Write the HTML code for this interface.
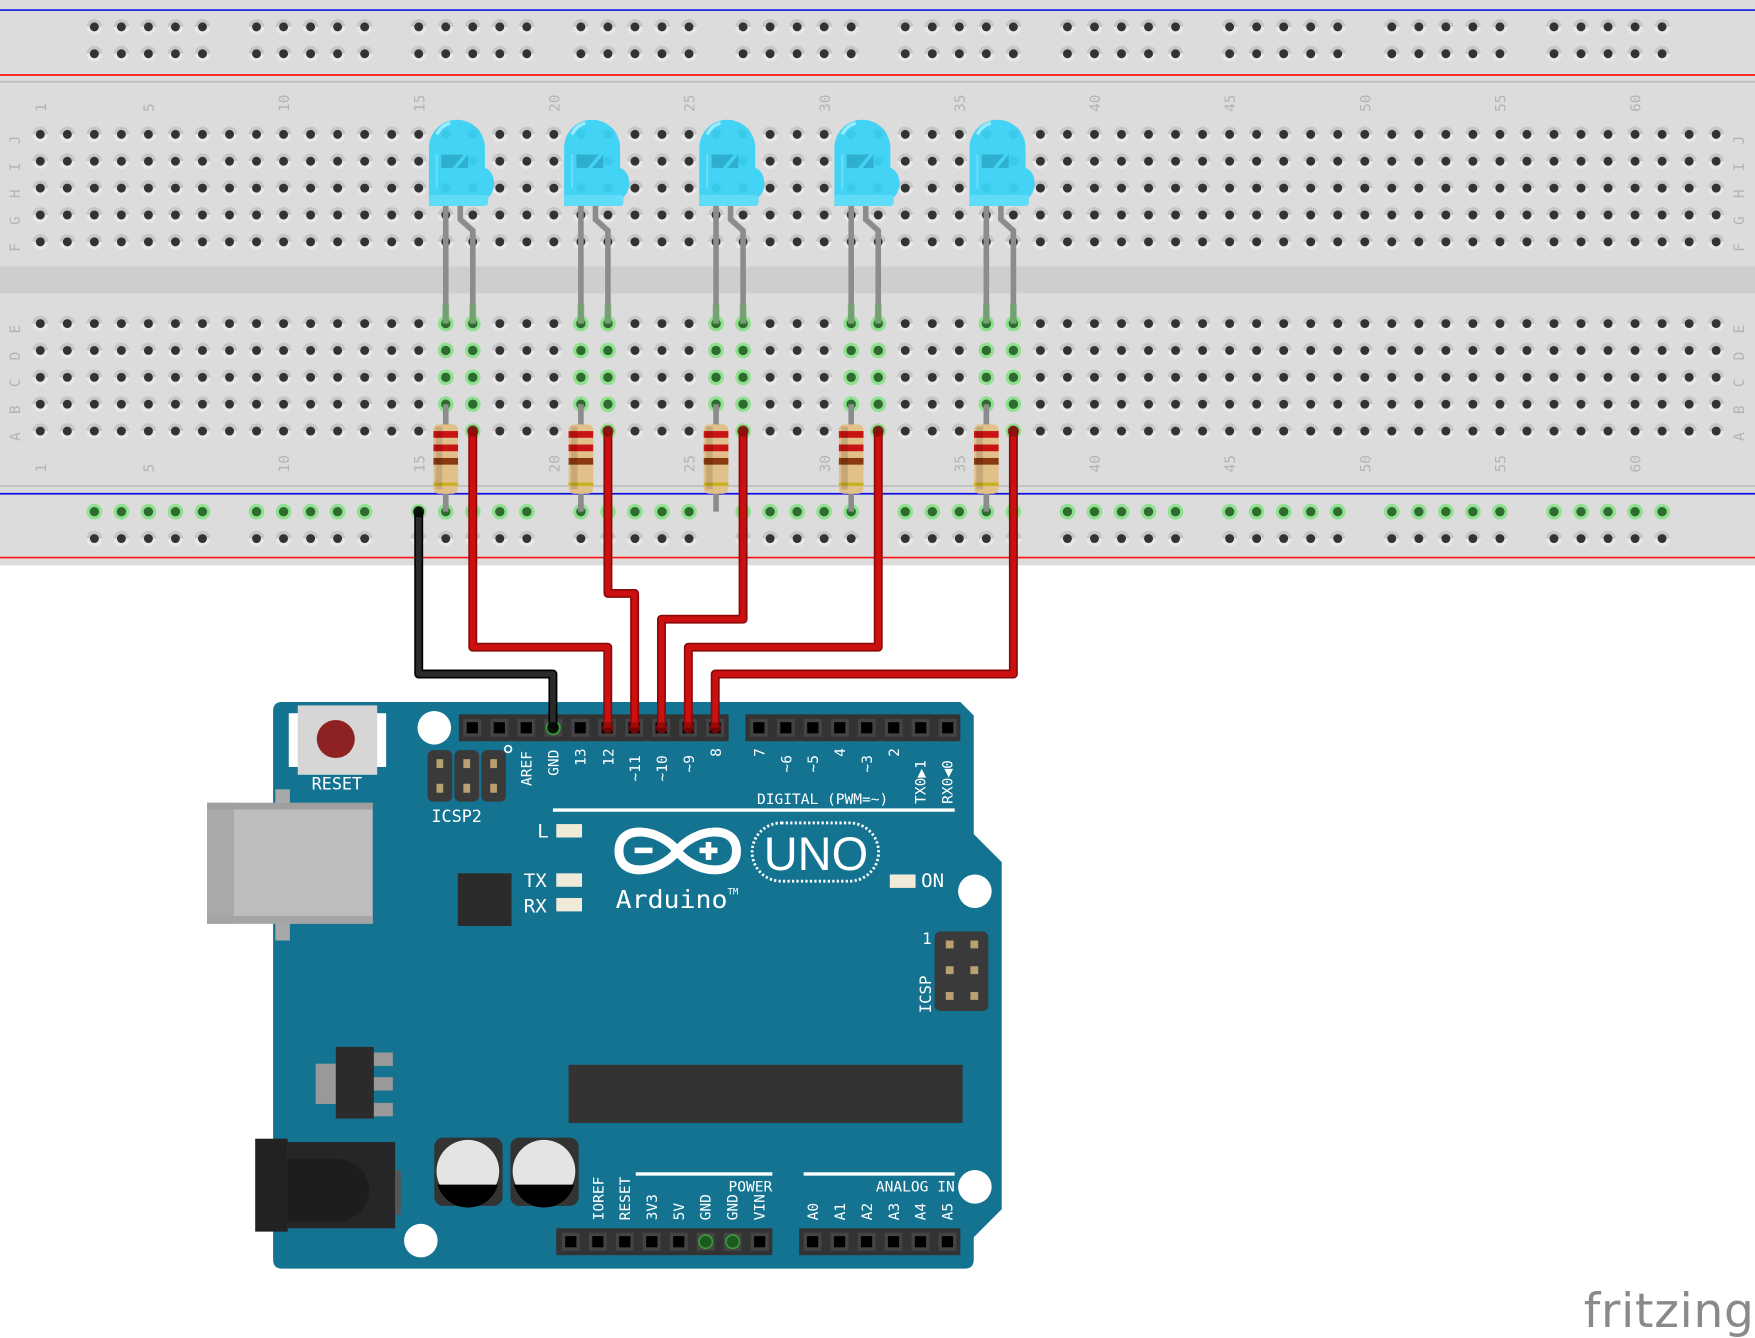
<!DOCTYPE html>
<html><head><meta charset="utf-8"><style>
html,body{margin:0;padding:0;background:#fff;width:1755px;height:1338px;overflow:hidden}
svg{display:block}
.bl{font-family:"DejaVu Sans Mono","Liberation Mono",monospace;fill:#b4b4b4;font-size:13px}
.pl{font-family:"DejaVu Sans Mono","Liberation Mono",monospace;fill:#fff}
</style></head><body>
<svg id="s" width="1755" height="1338" viewBox="0 0 1568 1195" preserveAspectRatio="none" xmlns="http://www.w3.org/2000/svg">
<defs>
<g id="hole"><path d="M-7,0a7,7 0 0 1 14,0z" fill="#c6c6c6"/><path d="M-7,0a7,7 0 0 0 14,0z" fill="#e8e8e8"/><circle r="4" fill="#333"/></g>
<g id="ghole"><circle r="7" fill="#8fe08f"/><circle r="4.2" fill="#2f6a2f"/></g>
<g id="led">
<path d="M-25,76 L-25,24 A25,25 0 0 1 25,24 L25,42 A10,14 0 0 1 28,68 L25,76 Z" fill="#3ad2f4" opacity="0.95"/>
<rect x="-25" y="66" width="53" height="10" rx="3" fill="#5fdcf7"/>
<path d="M-14,30 L6,30 L-4,42 L-14,42Z M0,42 L10,30 L10,42Z" fill="#2aa8c8" opacity="0.8"/>
<path d="M-18,12 Q-14,4 -6,2" stroke="#9eeaff" stroke-width="3" fill="none"/>
<path d="M-18,30 L-18,60" stroke="#7fe4fb" stroke-width="2" fill="none" opacity=".6"/>
</g>
<g id="res">
<rect x="-11" y="0" width="22" height="62" rx="5" fill="#e2c08a"/>
<rect x="-11" y="6" width="22" height="6" fill="#c81414"/>
<rect x="-11" y="18" width="22" height="6" fill="#c81414"/>
<rect x="-11" y="30" width="22" height="6" fill="#8a3a10"/>
<rect x="-11" y="52" width="22" height="3" fill="#c8b020"/>
<rect x="-9" y="2" width="6" height="56" fill="#000" opacity=".12"/>
</g>
</defs>
<rect x="0" y="0" width="1568" height="505" fill="#dcdcdc"/>
<rect x="0" y="238" width="1568" height="24" fill="#d0cecd"/>
<line x1="0" y1="9" x2="1568" y2="9" stroke="#1010e0" stroke-width="1.5"/>
<line x1="0" y1="67" x2="1568" y2="67" stroke="#ff1010" stroke-width="1.5"/>
<line x1="0" y1="73" x2="1568" y2="73" stroke="#bdbdbd" stroke-width="1.5"/>
<line x1="0" y1="434" x2="1568" y2="434" stroke="#bdbdbd" stroke-width="1.5"/>
<line x1="0" y1="441" x2="1568" y2="441" stroke="#1010e0" stroke-width="1.5"/>
<line x1="0" y1="498" x2="1568" y2="498" stroke="#ff1010" stroke-width="1.5"/>
<g id="holes"></g>
<g id="labels"></g>
<g class="bl">
<text transform="translate(18,125) rotate(-90)" text-anchor="middle">J</text>
<text transform="translate(18,149) rotate(-90)" text-anchor="middle">I</text>
<text transform="translate(18,173) rotate(-90)" text-anchor="middle">H</text>
<text transform="translate(18,197) rotate(-90)" text-anchor="middle">G</text>
<text transform="translate(18,221) rotate(-90)" text-anchor="middle">F</text>
<text transform="translate(18,294) rotate(-90)" text-anchor="middle">E</text>
<text transform="translate(18,318) rotate(-90)" text-anchor="middle">D</text>
<text transform="translate(18,342) rotate(-90)" text-anchor="middle">C</text>
<text transform="translate(18,366) rotate(-90)" text-anchor="middle">B</text>
<text transform="translate(18,390) rotate(-90)" text-anchor="middle">A</text>
<text transform="translate(1558,125) rotate(-90)" text-anchor="middle">J</text>
<text transform="translate(1558,149) rotate(-90)" text-anchor="middle">I</text>
<text transform="translate(1558,173) rotate(-90)" text-anchor="middle">H</text>
<text transform="translate(1558,197) rotate(-90)" text-anchor="middle">G</text>
<text transform="translate(1558,221) rotate(-90)" text-anchor="middle">F</text>
<text transform="translate(1558,294) rotate(-90)" text-anchor="middle">E</text>
<text transform="translate(1558,318) rotate(-90)" text-anchor="middle">D</text>
<text transform="translate(1558,342) rotate(-90)" text-anchor="middle">C</text>
<text transform="translate(1558,366) rotate(-90)" text-anchor="middle">B</text>
<text transform="translate(1558,390) rotate(-90)" text-anchor="middle">A</text>
</g>
<g id="parts"></g>

<path d="M252,627 L858,627 L870,639 L870,745 L895,770 L895,1080 L870,1105 L870,1125 Q870,1133 862,1133 L252,1133 Q244,1133 244,1125 L244,635 Q244,627 252,627Z" fill="#137391"/>
<rect x="246" y="705" width="13" height="135" fill="#a8a8a8"/>
<rect x="185" y="717" width="148" height="108" fill="#bdbdbd"/>
<rect x="185" y="717" width="24" height="108" fill="#a9a9a9"/>
<rect x="185" y="717" width="148" height="6" fill="#9f9f9f"/>
<rect x="185" y="818" width="148" height="7" fill="#a4a4a4"/>
<rect x="258" y="637" width="87" height="48" fill="#fff"/>
<rect x="266" y="630" width="71" height="62" fill="#d6d6d6"/>
<circle cx="300" cy="660" r="17" fill="#8e2222"/>
<text x="301" y="705" class="pl" text-anchor="middle" style="font-size:15px">RESET</text>
<circle cx="388" cy="650" r="15" fill="#fff"/>
<circle cx="871" cy="796" r="15" fill="#fff"/>
<circle cx="871" cy="1060" r="15" fill="#fff"/>
<circle cx="376" cy="1108" r="15" fill="#fff"/>
<g fill="#3a3a3a"><rect x="382" y="670" width="22" height="46" rx="5"/><rect x="406" y="670" width="22" height="46" rx="5"/><rect x="430" y="670" width="22" height="46" rx="5"/></g>
<g fill="#b8a070"><rect x="390" y="678" width="6" height="8"/><rect x="414" y="678" width="6" height="8"/><rect x="438" y="678" width="6" height="8"/><rect x="390" y="700" width="6" height="8"/><rect x="414" y="700" width="6" height="8"/><rect x="438" y="700" width="6" height="8"/></g>
<circle cx="454" cy="669" r="3" fill="none" stroke="#fff" stroke-width="1.5"/>
<text x="408" y="734" class="pl" text-anchor="middle" style="font-size:15px">ICSP2</text>
<rect x="410" y="638" width="241" height="24" fill="#333"/>
<rect x="666" y="638" width="192" height="24" fill="#333"/>
<rect x="497" y="1097" width="193" height="24" fill="#333"/>
<rect x="714" y="1097" width="144" height="24" fill="#333"/>
<g id="pins"></g>
<g class="pl" style="font-size:13px">
<text transform="translate(475,702) rotate(-90)">AREF</text>
<text transform="translate(499,693) rotate(-90)">GND</text>
<text transform="translate(523,684) rotate(-90)">13</text>
<text transform="translate(548,684) rotate(-90)">12</text>
<text transform="translate(572,698) rotate(-90)">~11</text>
<text transform="translate(596,698) rotate(-90)">~10</text>
<text transform="translate(620,690) rotate(-90)">~9</text>
<text transform="translate(644,676) rotate(-90)">8</text>
<text transform="translate(683,676) rotate(-90)">7</text>
<text transform="translate(707,690) rotate(-90)">~6</text>
<text transform="translate(731,690) rotate(-90)">~5</text>
<text transform="translate(755,676) rotate(-90)">4</text>
<text transform="translate(779,690) rotate(-90)">~3</text>
<text transform="translate(803,676) rotate(-90)">2</text>
<text transform="translate(827,718) rotate(-90)">TX0▶1</text>
<text transform="translate(851,718) rotate(-90)">RX0◀0</text>
<text x="735" y="718" text-anchor="middle">DIGITAL (PWM=~)</text>
</g>
<rect x="494" y="722" width="359" height="3" fill="#fff"/>
<rect x="409" y="780" width="48" height="47" fill="#2b2b2b"/>
<g fill="#f0ead8"><rect x="497" y="736" width="23" height="12"/><rect x="497" y="780" width="23" height="12"/><rect x="497" y="802" width="23" height="12"/><rect x="795" y="781" width="23" height="12"/></g>
<g class="pl" style="font-size:17px"><text x="480" y="748">L</text><text x="468" y="792">TX</text><text x="468" y="815">RX</text><text x="823" y="792">ON</text></g>
<g fill="none" stroke="#fff" stroke-width="8">
<path d="M605,760 C590,740 553,735 553,760 C553,785 590,780 605,760 C620,740 658,735 658,760 C658,785 620,780 605,760Z"/>
</g>
<rect x="567" y="757" width="16" height="5" fill="#fff"/>
<rect x="625" y="757" width="16" height="5" fill="#fff"/><rect x="630.5" y="752" width="5" height="16" fill="#fff"/>
<rect x="672" y="735" width="113" height="52" rx="26" fill="none" stroke="#fff" stroke-width="2.5" stroke-dasharray="2,2"/>
<text x="729" y="777" fill="#fff" font-family="Liberation Sans,sans-serif" font-size="42" text-anchor="middle">UNO</text>
<text x="550" y="811" class="pl" style="font-size:22px" textLength="100" lengthAdjust="spacingAndGlyphs">Arduino</text><text x="650" y="799" class="pl" style="font-size:8px">TM</text>
<rect x="835" y="832" width="48" height="71" rx="5" fill="#3a3a3a"/>
<g fill="#b8a070"><rect x="845" y="840" width="7" height="7"/><rect x="867" y="840" width="7" height="7"/><rect x="845" y="863" width="7" height="7"/><rect x="867" y="863" width="7" height="7"/><rect x="845" y="886" width="7" height="7"/><rect x="867" y="886" width="7" height="7"/></g>
<text x="824" y="843" class="pl" style="font-size:14px">1</text>
<text transform="translate(832,905) rotate(-90)" class="pl" style="font-size:14px">ICSP</text>
<rect x="508" y="951" width="352" height="52" fill="#333"/>
<rect x="282" y="950" width="20" height="36" fill="#999"/>
<g fill="#999"><rect x="333" y="940" width="18" height="12"/><rect x="333" y="962" width="18" height="12"/><rect x="333" y="985" width="18" height="12"/></g>
<rect x="300" y="935" width="34" height="64" fill="#2b2b2b"/>
<rect x="228" y="1017" width="29" height="83" fill="#222"/>
<rect x="257" y="1020" width="96" height="77" fill="#262626"/>
<path d="M257,1035 L300,1035 A30,28 0 0 1 300,1091 L257,1091Z" fill="#1d1d1d"/>
<rect x="353" y="1045" width="5" height="40" fill="#555"/>
<rect x="388" y="1016" width="61" height="61" rx="8" fill="#333"/>
<rect x="456" y="1016" width="61" height="61" rx="8" fill="#333"/>
<circle cx="418" cy="1046" r="28" fill="#e4e4e4"/><circle cx="486" cy="1046" r="28" fill="#e4e4e4"/>
<path d="M391,1058 L445,1058 A28,28 0 0 1 391,1058Z" fill="#000"/>
<path d="M459,1058 L513,1058 A28,28 0 0 1 459,1058Z" fill="#000"/>
<rect x="568" y="1047" width="122" height="3" fill="#fff"/>
<rect x="718" y="1047" width="135" height="3" fill="#fff"/>
<g class="pl" style="font-size:13px">
<text x="690" y="1064" text-anchor="end">POWER</text>
<text x="853" y="1064" text-anchor="end">ANALOG IN</text>
<text transform="translate(539,1090) rotate(-90)">IOREF</text>
<text transform="translate(563,1090) rotate(-90)">RESET</text>
<text transform="translate(587,1090) rotate(-90)">3V3</text>
<text transform="translate(611,1090) rotate(-90)">5V</text>
<text transform="translate(635,1090) rotate(-90)">GND</text>
<text transform="translate(659,1090) rotate(-90)">GND</text>
<text transform="translate(683,1090) rotate(-90)">VIN</text>
<text transform="translate(731,1090) rotate(-90)">A0</text>
<text transform="translate(755,1090) rotate(-90)">A1</text>
<text transform="translate(779,1090) rotate(-90)">A2</text>
<text transform="translate(803,1090) rotate(-90)">A3</text>
<text transform="translate(827,1090) rotate(-90)">A4</text>
<text transform="translate(851,1090) rotate(-90)">A5</text>
</g>
<g id="wires"></g>
<text x="1491" y="1185" fill="#8a8a8a" font-family="DejaVu Sans,Liberation Sans,sans-serif" font-size="42" text-anchor="middle" textLength="152">fritzing</text>
</svg>
<script>
var NS="http://www.w3.org/2000/svg";
function el(p,t,a){var e=document.createElementNS(NS,t);for(var k in a)e.setAttribute(k,a[k]);p.appendChild(e);return e;}
function cx(c){return 36+(c-1)*24.15;}
var H=document.getElementById('holes');
var ledCols=[16,17,21,22,26,27,31,32,36,37];
[120,144,168,192,216,289,313,337,361,385].forEach(function(y,ri){
 for(var c=1;c<=63;c++){
  var g=ri>=5&&ledCols.indexOf(c)>=0;
  el(H,'use',{href:g?'#ghole':'#hole',x:cx(c),y:y});
 }
});
for(var g=0;g<10;g++)for(var i=0;i<5;i++){var c=3+g*6+i;
 el(H,'use',{href:'#hole',x:cx(c),y:24});el(H,'use',{href:'#hole',x:cx(c),y:48});
 el(H,'use',{href:'#ghole',x:cx(c),y:457});el(H,'use',{href:'#hole',x:cx(c),y:481});}
var L=document.getElementById('labels');
[1,5,10,15,20,25,30,35,40,45,50,55,60].forEach(function(n){
 [100,422].forEach(function(y){var t=el(L,'text',{'class':'bl',transform:'translate('+(cx(n)+5)+','+y+') rotate(-90)'});t.textContent=n;});
});
var P=document.getElementById('parts');
[16,21,26,31,36].forEach(function(c){
 var x=cx(c),x2=cx(c+1);
 el(P,'path',{d:'M'+x+',180 L'+x+',289',stroke:'#8c8c8c','stroke-width':5,fill:'none'});
 el(P,'path',{d:'M'+(x+13)+',180 L'+(x+13)+',196 L'+x2+',206 L'+x2+',289',stroke:'#8c8c8c','stroke-width':5,fill:'none'});
 el(P,'rect',{x:x-3,y:272,width:6,height:17,fill:'#6aa86a',opacity:.7});
 el(P,'rect',{x:x2-3,y:272,width:6,height:17,fill:'#6aa86a',opacity:.7});
 el(P,'use',{href:'#led',x:x+10,y:108});
 el(P,'path',{d:'M'+x+',361 L'+x+',457',stroke:'#8c8c8c','stroke-width':5});
 el(P,'use',{href:'#res',x:x,y:379});
});
var PN=document.getElementById('pins');
function pin(x,y,green){el(PN,'rect',{x:x-8,y:y-8,width:16,height:16,fill:'#444'});
 if(green){el(PN,'circle',{cx:x,cy:y,r:6,fill:'#1d5a1d',stroke:'#3a9a3a','stroke-width':1.5});}
 else el(PN,'rect',{x:x-5,y:y-5,width:10,height:10,fill:'#000'});}
for(var i=0;i<10;i++)pin(422+i*24.1,650,i==3);
for(var i=0;i<8;i++)pin(678+i*24.1,650,false);
for(var i=0;i<8;i++)pin(510+i*24.1,1109,i==5||i==6);
for(var i=0;i<6;i++)pin(726+i*24.1,1109,false);
var W=document.getElementById('wires');
function wire(pts,col,dark){var d='M'+pts.map(function(p){return p.join(',')}).join(' L');
 el(W,'path',{d:d,stroke:dark,'stroke-width':8,fill:'none','stroke-linejoin':'round'});
 el(W,'path',{d:d,stroke:col,'stroke-width':5,fill:'none','stroke-linejoin':'round'});
 [pts[0],pts[pts.length-1]].forEach(function(p){el(W,'circle',{cx:p[0],cy:p[1],r:5,fill:dark,opacity:.8});});}
var R='#cc1010',RD='#8a0a0a';
wire([[cx(17),385],[cx(17),578],[543,578],[543,650]],R,RD);
wire([[cx(22),385],[cx(22),530],[567,530],[567,650]],R,RD);
wire([[cx(27),385],[cx(27),553],[591,553],[591,650]],R,RD);
wire([[cx(32),385],[cx(32),578],[615,578],[615,650]],R,RD);
wire([[cx(37),385],[cx(37),602],[639,602],[639,650]],R,RD);
wire([[cx(15),457],[cx(15),602],[494,602],[494,650]],'#2a2a2a','#000');
</script>
</body></html>
